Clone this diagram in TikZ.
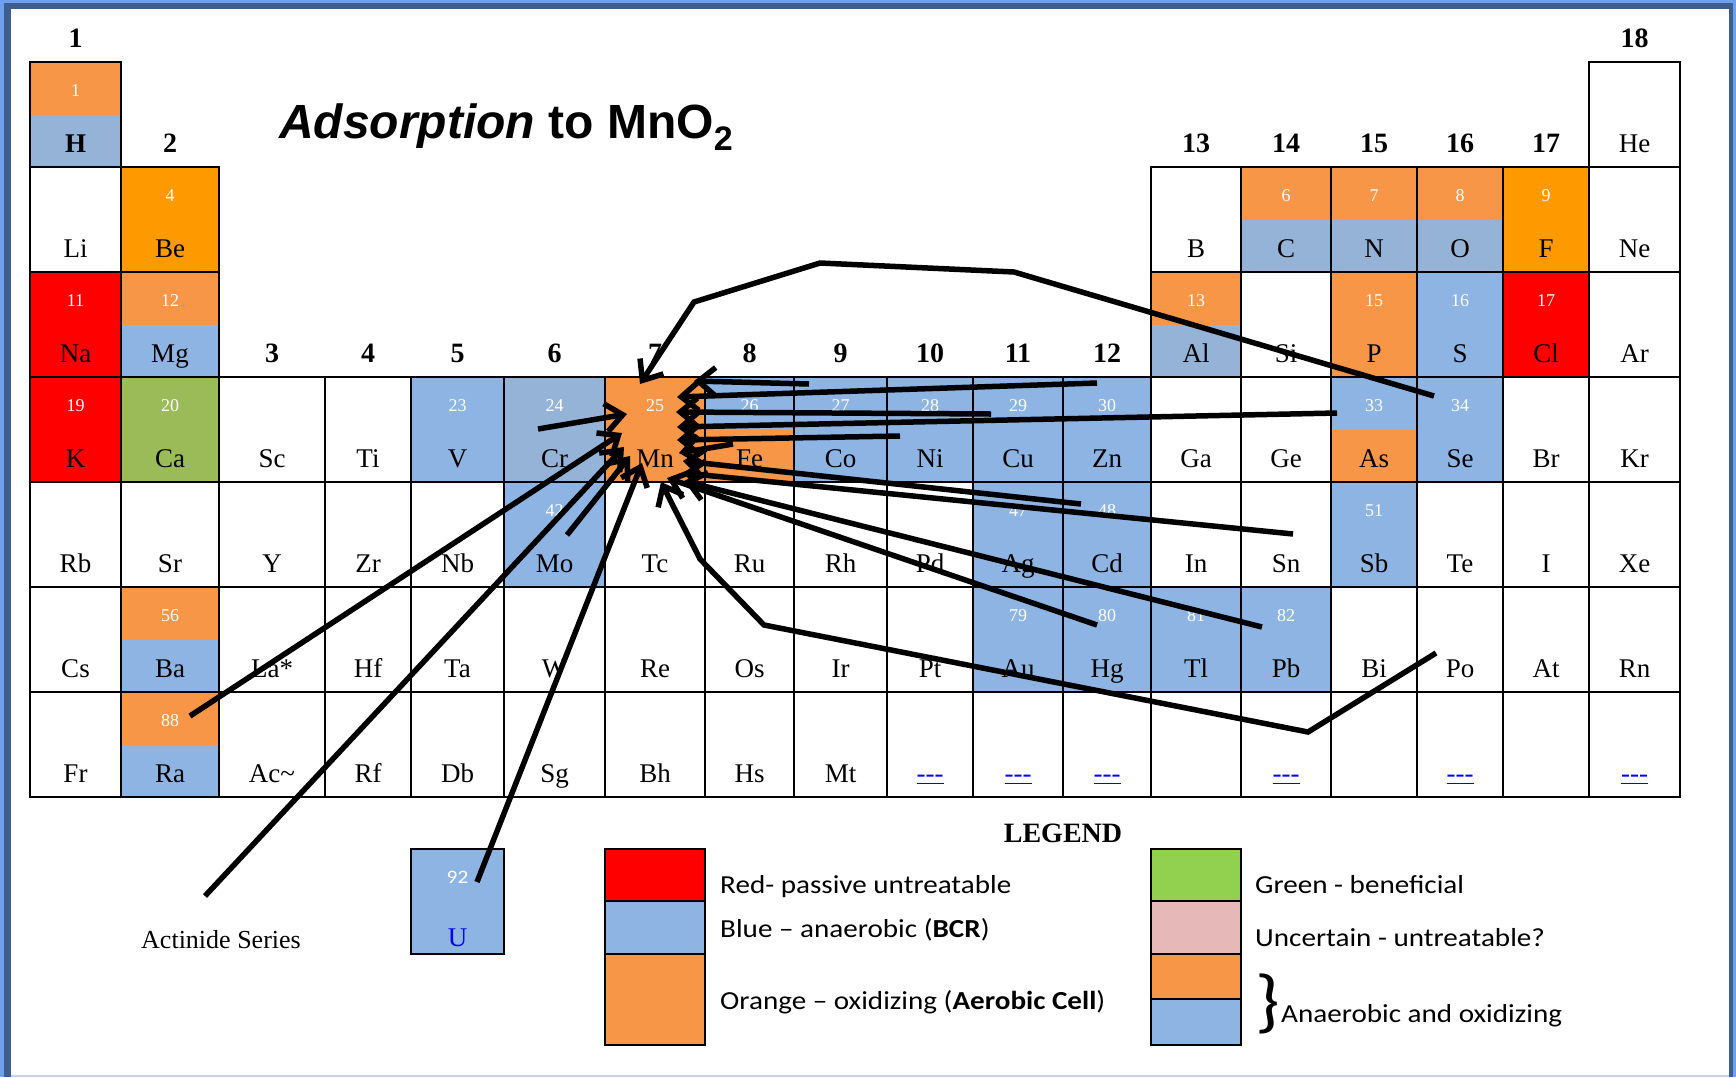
\documentclass[tikz,border=0pt]{standalone}
\usepackage{fontspec}
\setmainfont{Liberation Serif}
\newfontfamily\arialf{Liberation Sans}
\newfontfamily\calib{Carlito}[FakeStretch=1.12]
\usetikzlibrary{arrows.meta}
\definecolor{orng}{HTML}{F79646}
\definecolor{brorg}{HTML}{FF9900}
\definecolor{redc}{HTML}{FF0000}
\definecolor{blu}{HTML}{8DB4E2}
\definecolor{bgray}{HTML}{95B3D7}
\definecolor{grn}{HTML}{9BBB59}
\definecolor{lgrn}{HTML}{92D050}
\definecolor{pnk}{HTML}{E6B9B8}
\definecolor{linkb}{HTML}{0000FF}
\definecolor{fra}{HTML}{6FA0EE}
\definecolor{frb}{HTML}{3E5F8E}
\definecolor{frc}{HTML}{C6D4E6}
\def\colx{{30,121,219,325,411,504,605,705,794,887,973,1063,1151,1241,1331,1417,1503,1589,1680}}
\newcommand\lnk{\textcolor{linkb}{\underline{-{}-{}-}}}
\newcommand\pc[6]{%
  \pgfmathsetmacro\xl{\colx[#1-1]}%
  \pgfmathsetmacro\xr{\colx[#1]}%
  \pgfmathsetmacro\xc{(\xl+\xr)/2}%
  \pgfmathsetmacro\yt{62+105*(#2-1)}%
  \pgfmathsetmacro\ym{\yt+52.5}%
  \pgfmathsetmacro\yb{\yt+105}%
  \fill[#3] (\xl,\yt) rectangle (\xr,\ym);
  \fill[#4] (\xl,\ym) rectangle (\xr,\yb);
  \node[numtxt] (n#1-#2) at (\xc,\yt+34) {#5};
  \node[symtxt] (s#1-#2) at (\xc,\yt+90) {#6};
}
\tikzset{
  gridline/.style={line width=2.6pt, black, line cap=rect},
  numtxt/.style={anchor=base, inner sep=0pt, text=white, font=\fontsize{18}{18}\selectfont},
  symtxt/.style={anchor=base, inner sep=0pt, font=\fontsize{27}{27}\selectfont},
  grplbl/.style={anchor=base, inner sep=0pt, font=\fontsize{28}{28}\selectfont\bfseries},
  legtxt/.style={anchor=base west, inner sep=0pt, font=\calib\fontsize{26}{26}\selectfont},
  legbox/.style={draw=black, line width=2.6pt},
  arr/.style={line width=5.5pt, -{Straight Barb[length=17pt,width=28pt]}},
}
\begin{document}
\begin{tikzpicture}[x=1pt,y=-1pt]
\useasboundingbox (0,0) rectangle (1736,1077);
% frame
\fill[fra] (0,0) rectangle (1736,1077);
\fill[frb] (4,3) rectangle (1733,1077);
\fill[white] (11,9) rectangle (1729,1075);
\fill[frc] (11,1075) rectangle (1729,1077);
% title
\node[anchor=base west, inner sep=0pt, font=\arialf\bfseries\fontsize{48}{48}\selectfont] (title) at (279,138) {\textit{Adsorption} to MnO\raisebox{-0.26em}{\fontsize{34}{34}\selectfont 2}};
% group labels
\node[grplbl] (g1) at (75.5,47) {1};
\node[grplbl] (g18) at (1634.5,47) {18};
\node[grplbl] (g2) at (170,152) {2};
\node[grplbl] (g13) at (1196,152) {13};
\node[grplbl] (g14) at (1286,152) {14};
\node[grplbl] (g15) at (1374,152) {15};
\node[grplbl] (g16) at (1460,152) {16};
\node[grplbl] (g17) at (1546,152) {17};
\node[grplbl] (g3) at (272,362) {3};
\node[grplbl] (g4) at (368,362) {4};
\node[grplbl] (g5) at (457.5,362) {5};
\node[grplbl] (g6) at (554.5,362) {6};
\node[grplbl] (g7) at (655,362) {7};
\node[grplbl] (g8) at (749.5,362) {8};
\node[grplbl] (g9) at (840.5,362) {9};
\node[grplbl] (g10) at (930,362) {10};
\node[grplbl] (g11) at (1018,362) {11};
\node[grplbl] (g12) at (1107,362) {12};
% row 1
\pc{1}{1}{orng}{bgray}{1}{\textbf{H}}
\pc{18}{1}{white}{white}{}{He}
% row 2
\pc{1}{2}{white}{white}{}{Li}
\pc{2}{2}{brorg}{brorg}{4}{Be}
\pc{13}{2}{white}{white}{}{B}
\pc{14}{2}{orng}{bgray}{6}{C}
\pc{15}{2}{orng}{bgray}{7}{N}
\pc{16}{2}{orng}{bgray}{8}{O}
\pc{17}{2}{brorg}{brorg}{9}{F}
\pc{18}{2}{white}{white}{}{Ne}
% row 3
\pc{1}{3}{redc}{redc}{11}{Na}
\pc{2}{3}{orng}{blu}{12}{Mg}
\pc{13}{3}{orng}{bgray}{13}{Al}
\pc{14}{3}{white}{white}{}{Si}
\pc{15}{3}{orng}{orng}{15}{P}
\pc{16}{3}{blu}{blu}{16}{S}
\pc{17}{3}{redc}{redc}{17}{Cl}
\pc{18}{3}{white}{white}{}{Ar}
% row 4
\pc{1}{4}{redc}{redc}{19}{K}
\pc{2}{4}{grn}{grn}{20}{Ca}
\pc{3}{4}{white}{white}{}{Sc}
\pc{4}{4}{white}{white}{}{Ti}
\pc{5}{4}{blu}{blu}{23}{V}
\pc{6}{4}{bgray}{bgray}{24}{Cr}
\pc{7}{4}{orng}{orng}{25}{Mn}
\pc{8}{4}{blu}{orng}{26}{Fe}
\pc{9}{4}{blu}{blu}{27}{Co}
\pc{10}{4}{blu}{blu}{28}{Ni}
\pc{11}{4}{blu}{blu}{29}{Cu}
\pc{12}{4}{blu}{blu}{30}{Zn}
\pc{13}{4}{white}{white}{}{Ga}
\pc{14}{4}{white}{white}{}{Ge}
\pc{15}{4}{blu}{orng}{33}{As}
\pc{16}{4}{blu}{blu}{34}{Se}
\pc{17}{4}{white}{white}{}{Br}
\pc{18}{4}{white}{white}{}{Kr}
% row 5
\pc{1}{5}{white}{white}{}{Rb}
\pc{2}{5}{white}{white}{}{Sr}
\pc{3}{5}{white}{white}{}{Y}
\pc{4}{5}{white}{white}{}{Zr}
\pc{5}{5}{white}{white}{}{Nb}
\pc{6}{5}{blu}{blu}{42}{Mo}
\pc{7}{5}{white}{white}{}{Tc}
\pc{8}{5}{white}{white}{}{Ru}
\pc{9}{5}{white}{white}{}{Rh}
\pc{10}{5}{white}{white}{}{Pd}
\pc{11}{5}{blu}{blu}{47}{Ag}
\pc{12}{5}{blu}{blu}{48}{Cd}
\pc{13}{5}{white}{white}{}{In}
\pc{14}{5}{white}{white}{}{Sn}
\pc{15}{5}{blu}{blu}{51}{Sb}
\pc{16}{5}{white}{white}{}{Te}
\pc{17}{5}{white}{white}{}{I}
\pc{18}{5}{white}{white}{}{Xe}
% row 6
\pc{1}{6}{white}{white}{}{Cs}
\pc{2}{6}{orng}{blu}{56}{Ba}
\pc{3}{6}{white}{white}{}{La*}
\pc{4}{6}{white}{white}{}{Hf}
\pc{5}{6}{white}{white}{}{Ta}
\pc{6}{6}{white}{white}{}{W}
\pc{7}{6}{white}{white}{}{Re}
\pc{8}{6}{white}{white}{}{Os}
\pc{9}{6}{white}{white}{}{Ir}
\pc{10}{6}{white}{white}{}{Pt}
\pc{11}{6}{blu}{blu}{79}{Au}
\pc{12}{6}{blu}{blu}{80}{Hg}
\pc{13}{6}{blu}{blu}{81}{Tl}
\pc{14}{6}{blu}{blu}{82}{Pb}
\pc{15}{6}{white}{white}{}{Bi}
\pc{16}{6}{white}{white}{}{Po}
\pc{17}{6}{white}{white}{}{At}
\pc{18}{6}{white}{white}{}{Rn}
% row 7
\pc{1}{7}{white}{white}{}{Fr}
\pc{2}{7}{orng}{blu}{88}{Ra}
\pc{3}{7}{white}{white}{}{Ac\textasciitilde}
\pc{4}{7}{white}{white}{}{Rf}
\pc{5}{7}{white}{white}{}{Db}
\pc{6}{7}{white}{white}{}{Sg}
\pc{7}{7}{white}{white}{}{Bh}
\pc{8}{7}{white}{white}{}{Hs}
\pc{9}{7}{white}{white}{}{Mt}
\pc{10}{7}{white}{white}{}{\lnk}
\pc{11}{7}{white}{white}{}{\lnk}
\pc{12}{7}{white}{white}{}{\lnk}
\pc{13}{7}{white}{white}{}{}
\pc{14}{7}{white}{white}{}{\lnk}
\pc{15}{7}{white}{white}{}{}
\pc{16}{7}{white}{white}{}{\lnk}
\pc{17}{7}{white}{white}{}{}
\pc{18}{7}{white}{white}{}{\lnk}
% grid lines
\draw[gridline] (30,62) rectangle (121,167);
\draw[gridline] (1589,62) rectangle (1680,167);
\foreach \x in {30,121,219} \draw[gridline] (\x,167) -- (\x,377);
\foreach \y in {167,272} \draw[gridline] (30,\y) -- (219,\y);
\foreach \x in {1151,1241,1331,1417,1503,1589,1680} \draw[gridline] (\x,167) -- (\x,377);
\foreach \y in {167,272} \draw[gridline] (1151,\y) -- (1680,\y);
\foreach \x in {30,121,219,325,411,504,605,705,794,887,973,1063,1151,1241,1331,1417,1503,1589,1680} \draw[gridline] (\x,377) -- (\x,797);
\foreach \y in {377,482,587,692,797} \draw[gridline] (30,\y) -- (1680,\y);
% uranium
\draw[legbox, fill=blu] (411,849) rectangle (504,954);
\node[anchor=base, inner sep=0pt, text=white, font=\calib\fontsize{19}{19}\selectfont] (n92) at (457.5,883) {92};
\node[symtxt, text=linkb] (sU) at (457.5,946) {U};
\node[anchor=base, inner sep=0pt, font=\fontsize{26}{26}\selectfont] (act) at (221,948) {Actinide Series};
% legend
\node[anchor=base, inner sep=0pt, font=\bfseries\fontsize{28}{28}\selectfont] (legtitle) at (1063,842) {LEGEND};
\draw[legbox, fill=redc] (605,849) rectangle (705,901);
\draw[legbox, fill=blu] (605,901) rectangle (705,954);
\draw[legbox, fill=orng] (605,954) rectangle (705,1045);
\draw[legbox, fill=lgrn] (1151,849) rectangle (1241,901);
\draw[legbox, fill=pnk] (1151,901) rectangle (1241,954);
\draw[legbox, fill=orng] (1151,954) rectangle (1241,999);
\draw[legbox, fill=blu] (1151,999) rectangle (1241,1045);
\node[legtxt] (lred) at (720,893) {Red- passive untreatable};
\node[legtxt] (lblue) at (720,937) {Blue – anaerobic (\textbf{BCR})};
\node[legtxt] (lorng) at (720,1009) {Orange – oxidizing (\textbf{Aerobic Cell})};
\node[legtxt] (lgreen) at (1255,893) {Green - beneficial};
\node[legtxt] (lunc) at (1255,946) {Uncertain - untreatable?};
\node[inner sep=0pt, font=\calib\fontsize{70}{70}\selectfont] (brace) at (1268,1004) {\}};
\node[legtxt] (lboth) at (1281,1022) {Anaerobic and oxidizing};
% arrow coordinates
\coordinate (seS) at (1434,396);
\coordinate (seA) at (1014,272);
\coordinate (seB) at (820,263);
\coordinate (seC) at (694,302);
\coordinate (seT) at (640,384);
\coordinate (r1S) at (809,384);   \coordinate (r1T) at (694,381);
\coordinate (r2S) at (1097,383);  \coordinate (r2T) at (677,397);
\coordinate (r3S) at (991,414);   \coordinate (r3T) at (676,412);
\coordinate (r4S) at (1337,413);  \coordinate (r4T) at (677,427);
\coordinate (r5S) at (900,436);   \coordinate (r5T) at (677,440);
\coordinate (r6S) at (733,444);   \coordinate (r6T) at (679,453);
\coordinate (cdS) at (1081,504);  \coordinate (cdT) at (683,461);
\coordinate (snS) at (1293,534);  \coordinate (snT) at (683,473);
\coordinate (pbS) at (1262,627);  \coordinate (pbT) at (684,481);
\coordinate (hgS) at (1097,625);  \coordinate (hgT) at (667,478);
\coordinate (poS) at (1436,653);
\coordinate (poA) at (1308,732);
\coordinate (poB) at (764,625);
\coordinate (poC) at (700,559);
\coordinate (poT) at (661,482);
\coordinate (crS) at (538,429);   \coordinate (crT) at (627,414);
\coordinate (raS) at (190,716);   \coordinate (raT) at (622,433);
\coordinate (acS) at (205,896);   \coordinate (acT) at (624,447);
\coordinate (moS) at (567,535);   \coordinate (moT) at (630,456);
\coordinate (uS) at (477,882);    \coordinate (uT) at (642,463);
% arrows
\draw[arr] (seS) -- (seA) -- (seB) -- (seC) -- (seT);
\draw[arr] (r1S) -- (r1T);
\draw[arr] (r2S) -- (r2T);
\draw[arr] (r3S) -- (r3T);
\draw[arr] (r4S) -- (r4T);
\draw[arr] (r5S) -- (r5T);
\draw[arr] (r6S) -- (r6T);
\draw[arr] (cdS) -- (cdT);
\draw[arr] (snS) -- (snT);
\draw[arr] (pbS) -- (pbT);
\draw[arr] (hgS) -- (hgT);
\draw[arr] (poS) -- (poA) -- (poB) -- (poC) -- (poT);
\draw[arr] (crS) -- (crT);
\draw[arr] (raS) -- (raT);
\draw[arr] (acS) -- (acT);
\draw[arr] (moS) -- (moT);
\draw[arr] (uS) -- (uT);
\end{tikzpicture}
\end{document}
